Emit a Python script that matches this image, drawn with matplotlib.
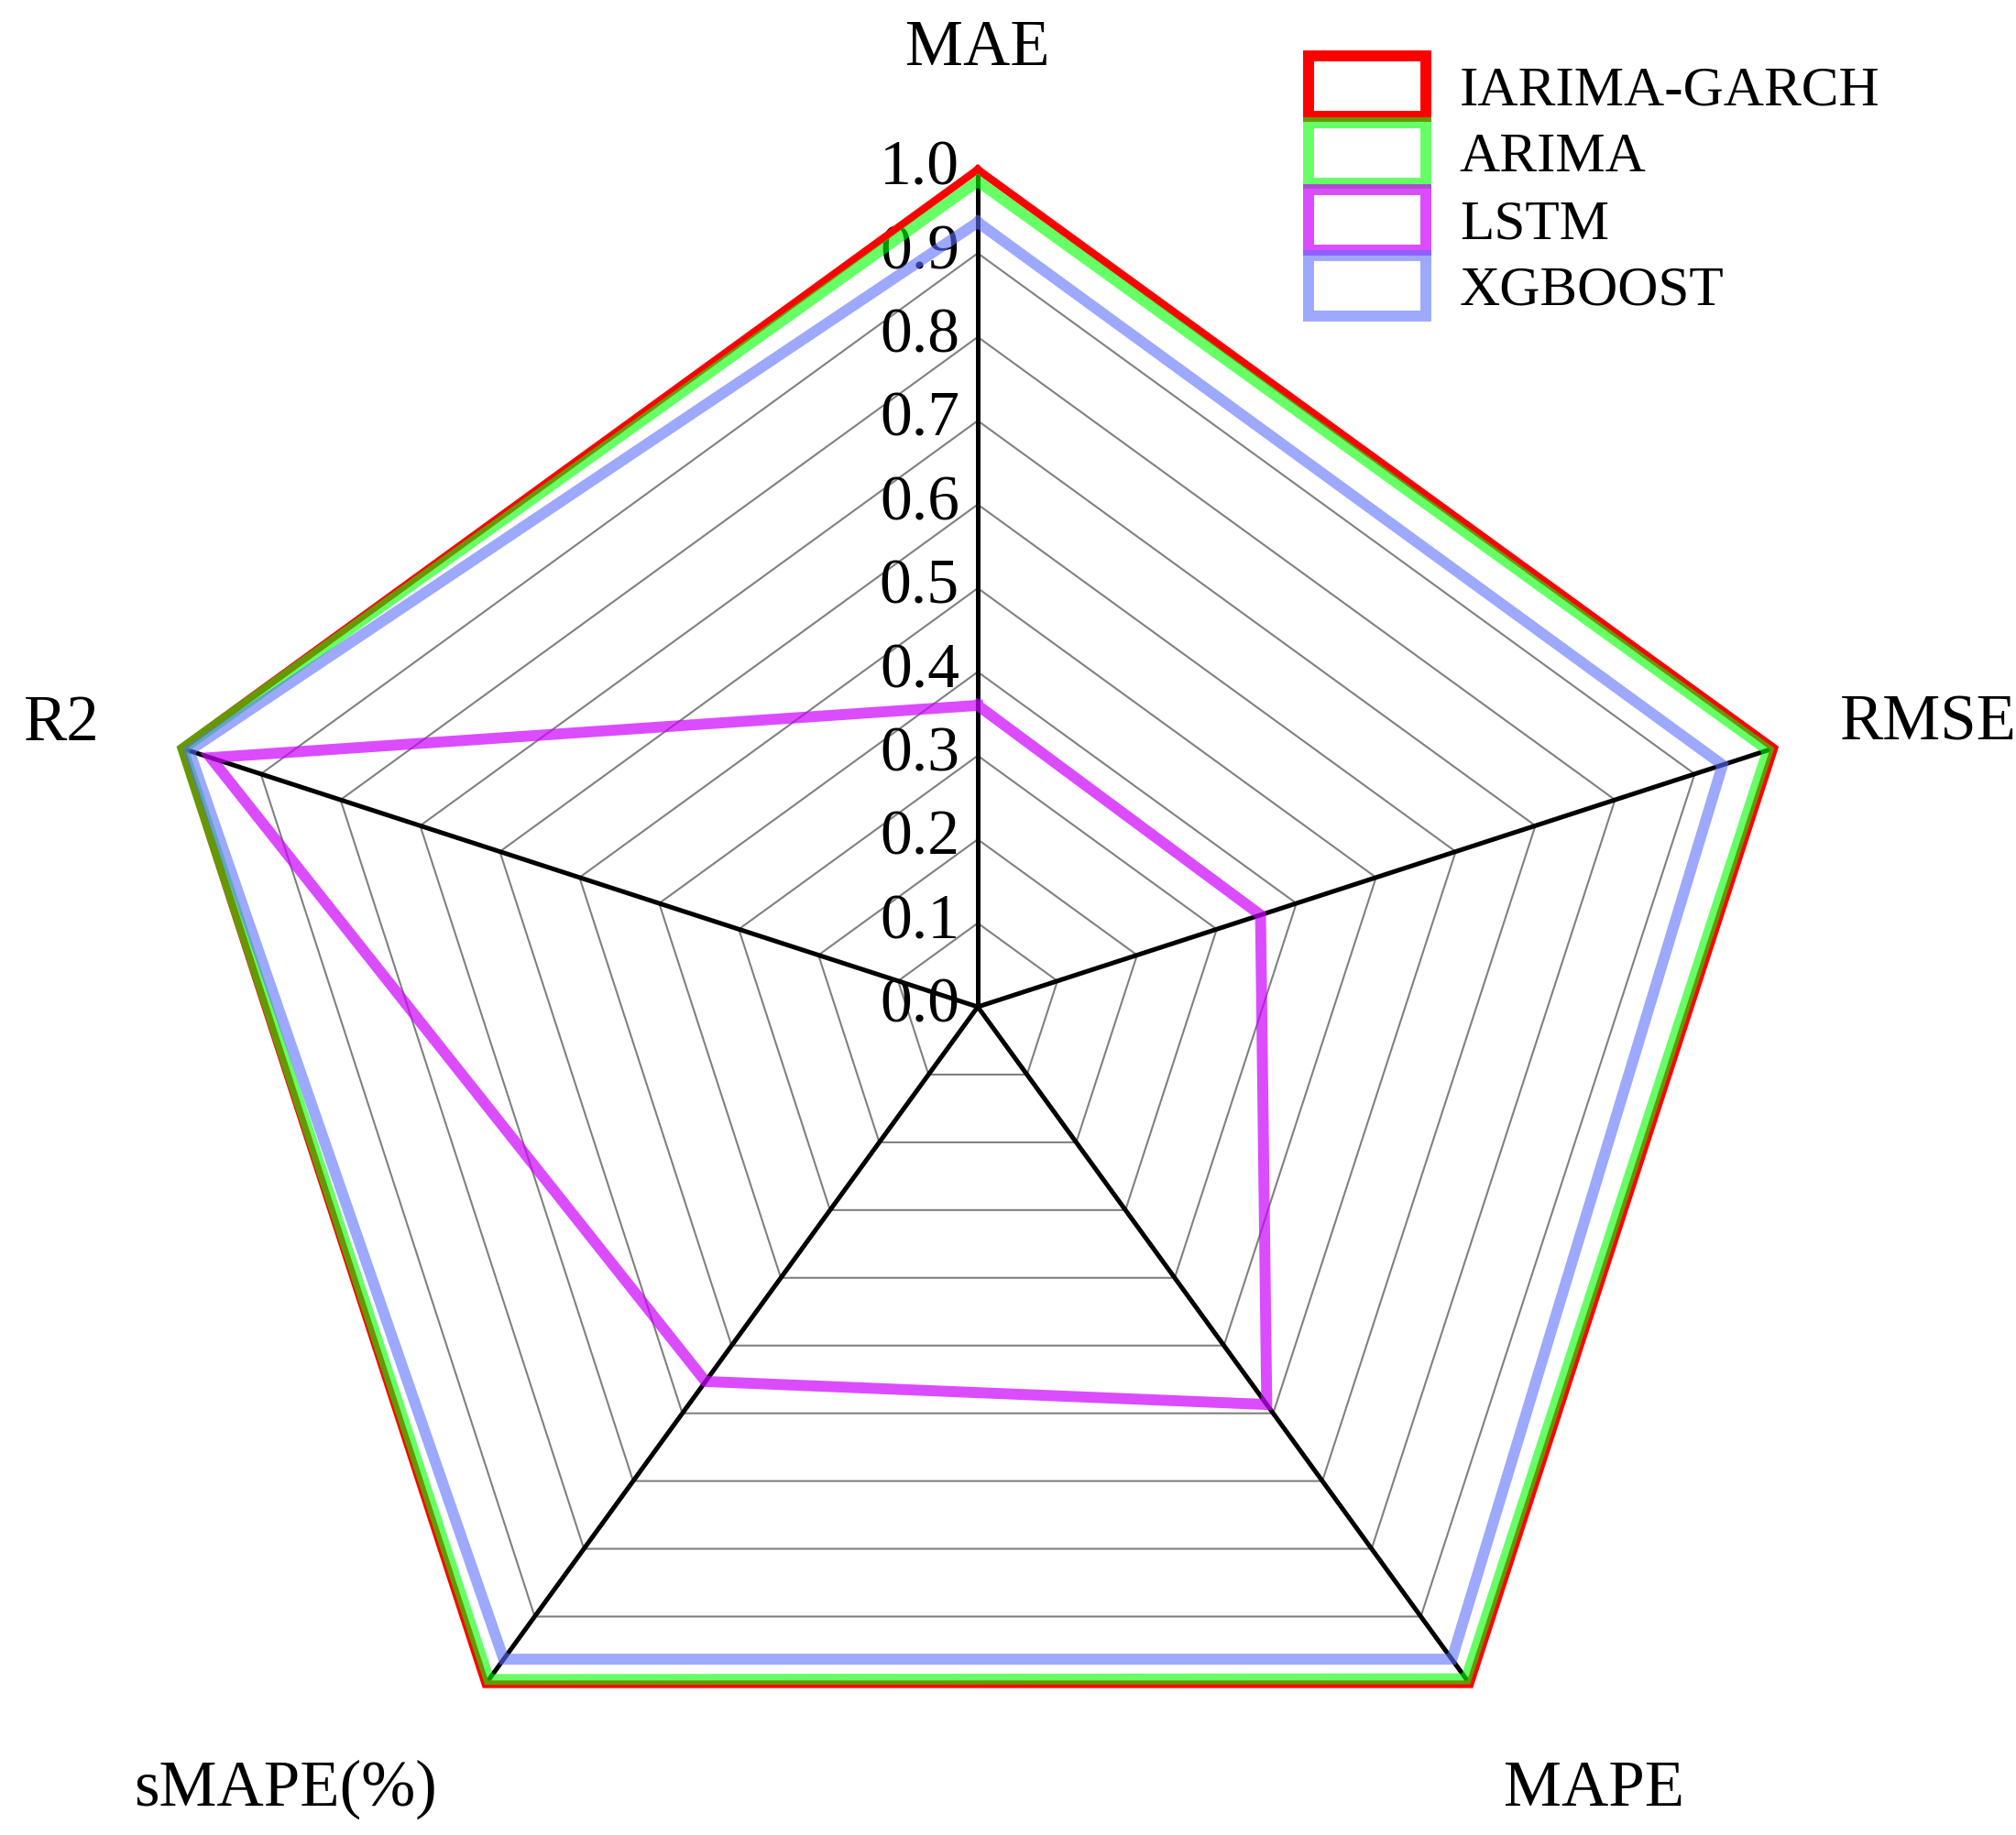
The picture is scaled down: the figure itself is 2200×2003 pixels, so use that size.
import numpy as np
import matplotlib.pyplot as plt
from matplotlib.patches import Patch

# metrics (axes of the radar) and normalised scores
metrics = ["MAE", "RMSE", "MAPE", "sMAPE(%)", "R2"]
models = ["IARIMA-GARCH", "ARIMA", "LSTM", "XGBOOST"]

iarima_garch = [1.0, 1.0, 1.0, 1.0, 1.0]
arima = [0.986, 0.992, 0.992, 0.993, 0.998]
lstm = [0.36, 0.355, 0.587, 0.553, 0.963]
xgboost = [0.937, 0.935, 0.963, 0.963, 0.99]

levels = [0.1, 0.2, 0.3, 0.4, 0.5, 0.6, 0.7, 0.8, 0.9, 1.0]
tick_labels = ["0.0", "0.1", "0.2", "0.3", "0.4", "0.5", "0.6", "0.7", "0.8", "0.9", "1.0"]

colors = [(1.0, 0.0, 0.0), (0.0, 1.0, 0.0), (0.8, 0.0, 1.0), (0.36, 0.43, 1.0)]
alphas = [1.0, 0.6, 0.7, 0.6]
widths = [6.0, 8.6, 8.6, 8.6]

plt.rcParams["font.family"] = ["Liberation Serif", "DejaVu Serif"]

# axis directions: MAE on top, going clockwise
angles = np.deg2rad(90 - 72 * np.arange(len(metrics)))


def to_xy(vals):
    vals = np.asarray(vals, dtype=float)
    x = vals * np.cos(angles)
    y = vals * np.sin(angles)
    return np.append(x, x[0]), np.append(y, y[0])


fig = plt.figure(figsize=(22, 20.03), dpi=100)
ax = fig.add_axes([0, 0, 1, 1])
ax.set_xlim(-1.1674, 1.2396)
ax.set_ylim(-0.989, 1.2024)
ax.set_aspect("equal")
ax.axis("off")

# polygon grid
for lv in levels:
    gx, gy = to_xy([lv] * len(metrics))
    ax.plot(gx, gy, color="#808080", lw=1.5, zorder=1)

# spokes
for a in angles:
    ax.plot([0, np.cos(a)], [0, np.sin(a)], color="black", lw=3.6, zorder=2)

# radial tick labels along the MAE axis
for i, lab in enumerate(tick_labels):
    ax.text(-0.022, i / 10, lab, ha="right", va="center", fontsize=50, zorder=2)

# metric names
label_pos = [(0.0, 1.144), (1.135, 0.338), (0.736, -0.935), (-0.827, -0.935), (-1.094, 0.338)]
for name, (lx, ly) in zip(metrics, label_pos):
    ax.text(lx, ly, name, ha="center", va="center", fontsize=51)

series = [iarima_garch, arima, lstm, xgboost]
for k, vals in enumerate(series):
    sx, sy = to_xy(vals)
    ax.plot(sx, sy, color=colors[k], alpha=alphas[k], lw=widths[k],
            solid_joinstyle="miter", zorder=3 + k)

handles = [Patch(facecolor="white", edgecolor=colors[k] + (alphas[k],), linewidth=8.6)
           for k in range(len(models))]
fig.legend(handles, models, loc="upper left", bbox_to_anchor=(0.649, 0.9695),
           frameon=False, fontsize=44, handlelength=2.1, handleheight=1.29,
           labelspacing=0.1, handletextpad=0.6, borderpad=0, borderaxespad=0)

fig.savefig("out.png", dpi=100)
